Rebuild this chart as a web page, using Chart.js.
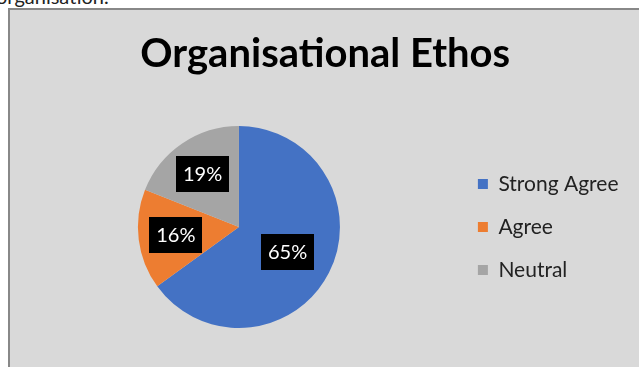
<!DOCTYPE html>
<html>
<head>
<meta charset="utf-8">
<script src="https://cdn.jsdelivr.net/npm/chart.js@4"></script>
<style>
  body { margin: 0; background: #fff; width: 639px; height: 367px; overflow: hidden; position: relative; }
  #above { position: absolute; left: -4px; top: -16px; font: 20px Lato, sans-serif; color: #222; line-height: 24px; }
  #box { position: absolute; left: 8px; top: 8px; width: 640px; height: 370px; border-top: 2px solid #888; border-left: 2px solid #888; background: #d9d9d9; }
  #wrap { position: absolute; left: 0; top: 0; width: 629px; height: 357px; }
</style>
</head>
<body>
<div id="above">organisation.</div>
<div id="box">
  <div id="wrap"><canvas id="pie"></canvas></div>
</div>
<script>
const labels = ['Strong Agree', 'Agree', 'Neutral'];
const shares = [65, 16, 19];
const colours = ['#4472c4', '#ed7d31', '#a5a5a5'];

// black boxes with the percentage, placed along each slice's middle angle
const boxLabels = {
    id: 'boxLabels',
    afterDatasetsDraw(chart, args, opts) {
        const ctx = chart.ctx;
        const meta = chart.getDatasetMeta(0);
        ctx.save();
        ctx.font = '20px Lato';
        ctx.textAlign = 'center';
        ctx.textBaseline = 'middle';
        meta.data.forEach((arc, i) => {
            const p = arc.getProps(['x', 'y', 'startAngle', 'endAngle', 'outerRadius'], true);
            const mid = (p.startAngle + p.endAngle) / 2;
            const r = p.outerRadius * opts.radius[i];
            const cx = p.x + Math.cos(mid) * r;
            const cy = p.y + Math.sin(mid) * r;
            const txt = chart.data.datasets[0].data[i] + '%';
            const w = ctx.measureText(txt).width + 14;
            const h = 36;
            ctx.fillStyle = '#000';
            ctx.fillRect(Math.round(cx - w / 2), Math.round(cy - h / 2), Math.round(w), h);
            ctx.fillStyle = '#fff';
            ctx.fillText(txt, cx, cy + 1);
        });
        ctx.restore();
    }
};

new Chart(document.getElementById('pie'), {
    type: 'pie',
    data: {
        labels: labels,
        datasets: [{
            data: shares,
            backgroundColor: colours,
            borderWidth: 0
        }]
    },
    options: {
        responsive: true,
        maintainAspectRatio: false,
        animation: false,
        layout: { padding: { left: 12, right: 10.5, top: 0, bottom: 39 } },
        plugins: {
            title: {
                display: true,
                text: 'Organisational Ethos',
                color: '#000',
                font: { family: 'Lato', size: 40, weight: 'bold' },
                padding: { top: 20.5, bottom: 47.5 }
            },
            legend: {
                position: 'right',
                fullSize: false,
                labels: {
                    boxWidth: 10,
                    boxHeight: 10,
                    padding: 22,
                    color: '#222',
                    font: { family: 'Lato', size: 21 }
                }
            },
            tooltip: { enabled: false },
            boxLabels: { radius: [0.54, 0.63, 0.64] }
        }
    },
    plugins: [boxLabels]
});
</script>
</body>
</html>
